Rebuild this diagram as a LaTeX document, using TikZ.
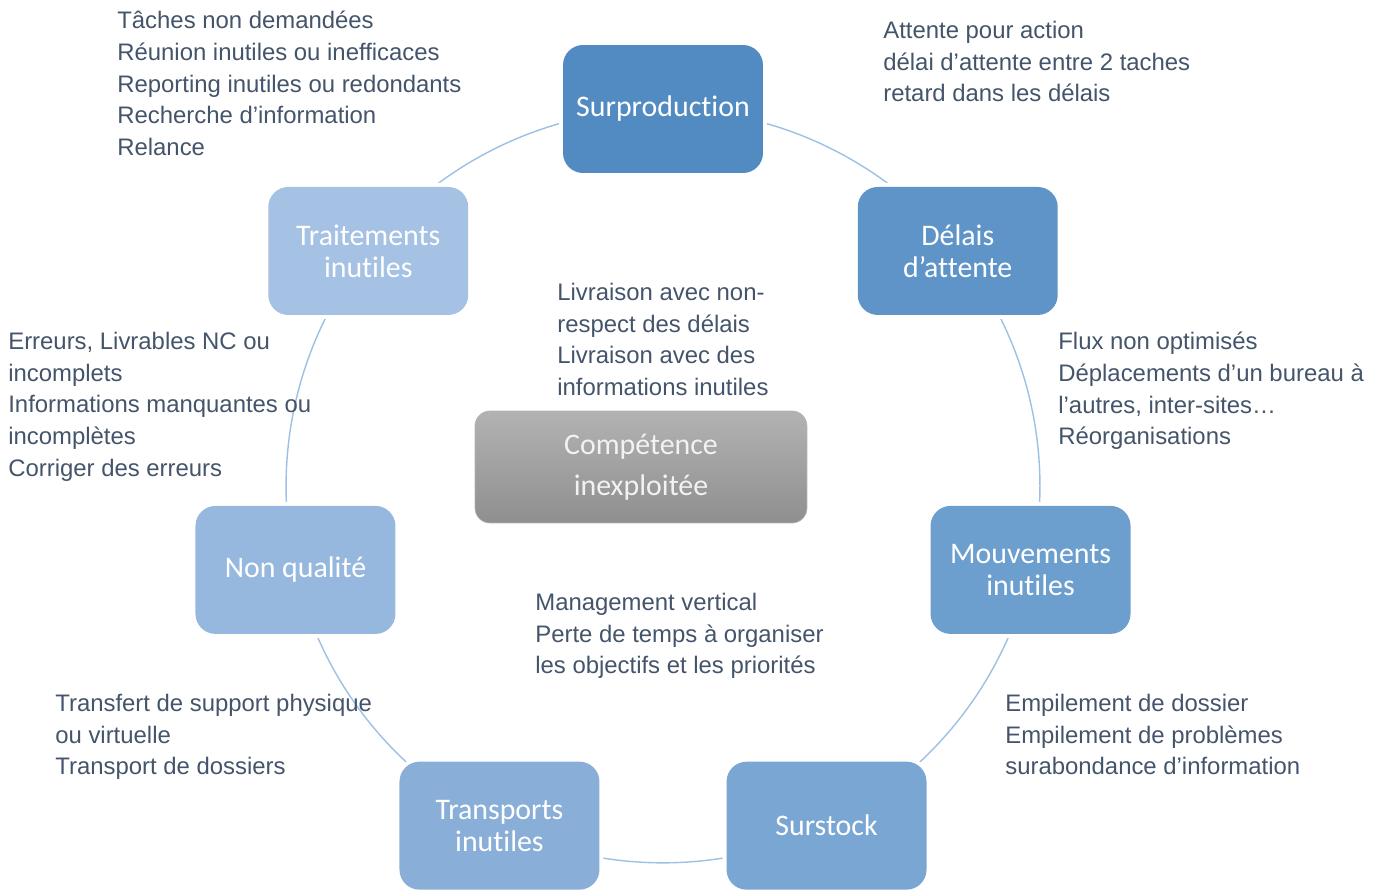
\documentclass[tikz,border=0pt]{standalone}
\usepackage{fontspec}
\setmainfont{Liberation Sans}
\newfontfamily\boxfont[Ligatures={NoCommon,NoRare,NoDiscretionary}]{Carlito}
\usetikzlibrary{shapes,arrows}
\definecolor{ringline}{HTML}{9DC0E5}
\definecolor{notegray}{HTML}{44546A}
\definecolor{wasteA}{HTML}{528BC2}
\definecolor{wasteB}{HTML}{5E94C8}
\definecolor{wasteC}{HTML}{6C9ECE}
\definecolor{wasteD}{HTML}{7AA6D3}
\definecolor{wasteE}{HTML}{89AFD8}
\definecolor{wasteF}{HTML}{97B8DE}
\definecolor{wasteG}{HTML}{A5C1E4}
\tikzstyle{waste} = [rectangle, rounded corners=0.4cm, minimum width=4cm, minimum height=2.56cm, align=center, text=white, font=\boxfont\fontsize{17}{18.2}\selectfont, preaction={draw=white, line width=0.16cm}]
\tikzstyle{skill} = [rectangle, rounded corners=0.3cm, minimum width=6.64cm, minimum height=2.24cm, align=center, draw=black!30, top color=black!30, bottom color=black!44, text=black!5, font=\boxfont\fontsize{17}{23.3}\selectfont]
\tikzstyle{note} = [anchor=north west, inner sep=0pt, align=left, text=notegray, font=\fontsize{13.6}{18}\selectfont]
\tikzstyle{ring} = [draw=ringline, line width=0.8pt]
\pgfdeclarelayer{background}
\pgfsetlayers{background,main}

\begin{document}
\begin{tikzpicture}[x=0.02cm, y=0.02cm]
    \useasboundingbox (0,0) rectangle (1384,-890);
    \coordinate (hub) at (663,-486);

    \node [waste, fill=wasteA] (surprod) at ([shift={(90:377)}]hub) {Surproduction};
    \node [waste, fill=wasteB] (delais) at ([shift={(38.57:377)}]hub) {Délais\\d’attente};
    \node [waste, fill=wasteC] (mouvements) at ([shift={(-12.86:377)}]hub) {Mouvements\\inutiles};
    \node [waste, fill=wasteD] (surstock) at ([shift={(-64.29:377)}]hub) {Surstock};
    \node [waste, fill=wasteE] (transports) at ([shift={(-115.71:377)}]hub) {Transports\\inutiles};
    \node [waste, fill=wasteF] (nonqualite) at ([shift={(-167.14:377)}]hub) {Non qualité};
    \node [waste, fill=wasteG] (traitements) at ([shift={(141.43:377)}]hub) {Traitements\\inutiles};
    \node [skill] (competence) at (641,-467) {Compétence\\inexploitée};

    \node [note] (taches) at (117,-11) {Tâches non demandées\\Réunion inutiles ou inefficaces\\Reporting inutiles ou redondants\\Recherche d’information\\Relance};
    \node [note] (attente) at (883,-21) {Attente pour action\\délai d’attente entre 2 taches\\retard dans les délais};
    \node [note] (livraison) at (557,-283) {Livraison avec non-\\respect des délais\\Livraison avec des\\informations inutiles};
    \node [note] (flux) at (1058,-332) {Flux non optimisés\\Déplacements d’un bureau à\\l’autres, inter-sites…\\Réorganisations};
    \node [note] (erreurs) at (8,-332) {Erreurs, Livrables NC ou\\incomplets\\Informations manquantes ou\\incomplètes\\Corriger des erreurs};
    \node [note] (management) at (535,-593) {Management vertical\\Perte de temps à organiser\\les objectifs et les priorités};
    \node [note] (transfert) at (55,-694) {Transfert de support physique\\ou virtuelle\\Transport de dossiers};
    \node [note] (empilement) at (1005,-694) {Empilement de dossier\\Empilement de problèmes\\surabondance d’information};

    \begin{pgfonlayer}{background}
       \path [ring] (surprod.center) to[bend left=25.71, looseness=0.896] (delais.center);
       \path [ring] (delais.center) to[bend left=25.71, looseness=0.896] (mouvements.center);
       \path [ring] (mouvements.center) to[bend left=25.71, looseness=0.896] (surstock.center);
       \path [ring] (surstock.center) to[bend left=25.71, looseness=0.896] (transports.center);
       \path [ring] (transports.center) to[bend left=25.71, looseness=0.896] (nonqualite.center);
       \path [ring] (nonqualite.center) to[bend left=25.71, looseness=0.896] (traitements.center);
       \path [ring] (traitements.center) to[bend left=25.71, looseness=0.896] (surprod.center);
    \end{pgfonlayer}
\end{tikzpicture}
\end{document}
